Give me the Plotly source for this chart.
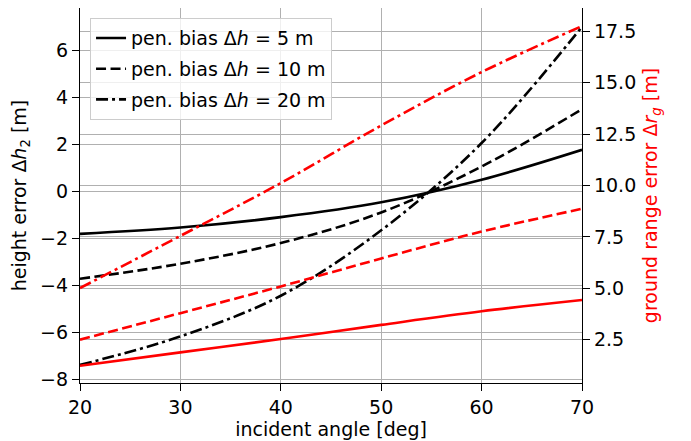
import plotly.graph_objects as go

# incident angle [deg]
angles = [20, 30, 40, 50, 60, 70]

# height error Δh2 [m] (left axis)
h_err_5 = [-1.80, -1.53, -1.09, -0.46, 0.50, 1.77]
h_err_10 = [-3.71, -3.07, -2.19, -0.89, 1.06, 3.50]
h_err_20 = [-7.37, -6.16, -4.43, -1.65, 2.06, 7.00]

# ground range error Δr_g [m] (right axis)
rg_err_5 = [1.23, 1.88, 2.53, 3.22, 3.88, 4.43]
rg_err_10 = [2.50, 3.79, 5.09, 6.45, 7.76, 8.87]
rg_err_20 = [5.01, 7.55, 10.12, 12.92, 15.52, 17.76]

labels = ["pen. bias Δ<i>h</i> = 5 m", "pen. bias Δ<i>h</i> = 10 m", "pen. bias Δ<i>h</i> = 20 m"]
dashes = ["solid", "10px,4.5px", "12px,4px,3px,4px"]

left_ticks = [-8, -6, -4, -2, 0, 2, 4, 6]
right_ticks = [2.5, 5.0, 7.5, 10.0, 12.5, 15.0, 17.5]
x_ticks = [20, 30, 40, 50, 60, 70]

FONT = "DejaVu Sans"
FS = 19
fig = go.Figure()

for i, (ys, lab) in enumerate(zip([h_err_5, h_err_10, h_err_20], labels)):
    fig.add_trace(go.Scatter(x=angles, y=ys, mode="lines", name=lab,
                             line=dict(color="black", width=2.6, dash=dashes[i], shape="spline"),
                             legendgroup=f"g{i}", yaxis="y"))

for i, ys in enumerate([rg_err_5, rg_err_10, rg_err_20]):
    fig.add_trace(go.Scatter(x=angles, y=ys, mode="lines", showlegend=False,
                             line=dict(color="red", width=2.6, dash=dashes[i], shape="spline"),
                             yaxis="y2"))

axis_common = dict(showline=True, linecolor="black", linewidth=1.3,
                   ticks="outside", ticklen=7, tickwidth=1.3, tickcolor="black",
                   showgrid=True, gridcolor="#b0b0b0", gridwidth=1.3,
                   zeroline=False, tickfont=dict(family=FONT, size=FS, color="black"))

# page body has an 8px default margin; figure sized to fit the 691x441 window
fig.update_layout(
    width=683, height=433,
    margin=dict(l=72, r=109, t=0, b=58, autoexpand=False),
    paper_bgcolor="white", plot_bgcolor="white",
    font=dict(family=FONT, size=FS, color="black"),
    xaxis=dict(range=[20, 70], tickvals=x_ticks, mirror=True,
               title=dict(text="incident angle [deg]", font=dict(family=FONT, size=FS), standoff=4),
               **axis_common),
    yaxis=dict(range=[-8.14, 7.80], tickvals=left_ticks,
               title=dict(text="height error Δ<i>h</i><sub>2</sub> [m]", font=dict(family=FONT, size=FS), standoff=8),
               **axis_common),
    yaxis2=dict(range=[0.39, 18.64], tickvals=right_ticks, tickformat=".1f",
                overlaying="y", side="right",
                title=dict(text="ground range error Δ<i>r</i><sub><i>g</i></sub> [m]",
                           font=dict(family=FONT, size=FS, color="red"), standoff=8),
                **axis_common),
    legend=dict(x=0.02, y=0.973, xanchor="left", yanchor="top",
                bgcolor="rgba(255,255,255,0.8)", bordercolor="#cccccc", borderwidth=1,
                font=dict(family=FONT, size=FS, color="black"),
                tracegroupgap=3, traceorder="grouped"),
    showlegend=True,
)

fig.write_html("out.html")
